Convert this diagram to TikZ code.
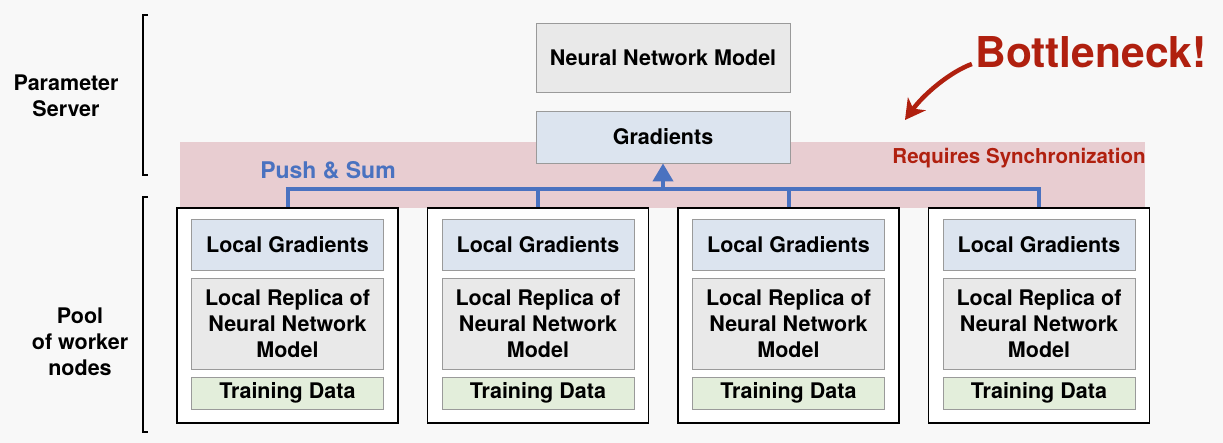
\documentclass[tikz,border=0pt]{standalone}
\usepackage{fontspec}
\setmainfont{TeX Gyre Heros}
\usetikzlibrary{arrows.meta}
\definecolor{bgcol}{HTML}{F8F8F8}
\definecolor{modelgray}{HTML}{E9E9E9}
\definecolor{gradblue}{HTML}{DCE4EF}
\definecolor{datagreen}{HTML}{E3EEDB}
\definecolor{syncpink}{HTML}{E8CDD1}
\definecolor{pushblue}{HTML}{4A72C0}
\definecolor{alertred}{HTML}{B0200F}
\definecolor{edgegray}{HTML}{9A9A9A}

\begin{document}
\begin{tikzpicture}[x=1pt,y=-1pt,
  txt/.style={font=\fontsize{21.5}{26}\selectfont\bfseries},
  box/.style={txt,draw=edgegray,line width=0.8pt,inner sep=0pt,align=center},
  worker/.style={draw=black,fill=white,line width=1.3pt,minimum width=221pt,minimum height=215pt,inner sep=0pt},
  push/.style={draw=pushblue,line width=4pt},
  brace/.style={line width=1.3pt}]
\fill[bgcol] (0,0) rectangle (1223,443);
\useasboundingbox (0,0) rectangle (1223,443);

\draw[brace] (148,15) -- (143,15) -- (143,175) -- (148,175);
\draw[brace] (148,197) -- (143,197) -- (143,432) -- (148,432);
\node[txt,align=center] (pslabel) at (66,96) {Parameter\\Server};
\node[txt,align=center] (poollabel) at (80,342) {Pool\\of worker\\nodes};

\fill[syncpink] (180,142) rectangle (1145,208);

\node[box,fill=modelgray,minimum width=254pt,minimum height=69pt] (model) at (663,57.5) {Neural Network Model};
\node[box,fill=gradblue,minimum width=254pt,minimum height=52pt] (grad) at (663,137) {Gradients};

\foreach \i/\cx in {1/287.5,2/538,3/788.5,4/1039} {
  \node[worker] (w\i) at (\cx,315.5) {};
  \node[box,fill=gradblue,minimum width=192pt,minimum height=51pt] (lg\i) at (\cx,244.5) {Local Gradients};
  \node[box,fill=modelgray,minimum width=192pt,minimum height=91pt] (rep\i) at (\cx,323.5) {Local Replica of\\Neural Network\\Model};
  \node[box,fill=datagreen,minimum width=192pt,minimum height=32pt] (td\i) at (\cx,393) {Training Data};
}

\coordinate (bus) at (663,189);
\draw[push] (w1.north) |- (bus) -| (w4.north);
\draw[push] (w2.north) -- (w2.north |- bus);
\draw[push] (w3.north) -- (w3.north |- bus);
\draw[push,-{Triangle[length=18pt,width=20pt]}] (bus) -- (grad.south);

\node[font=\fontsize{23}{26}\selectfont\bfseries,text=pushblue] (pushsum) at (328,170) {Push \& Sum};
\node[font=\fontsize{20.5}{24}\selectfont\bfseries,text=alertred] (sync) at (1019,158) {Requires Synchronization};
\node[font=\fontsize{42.5}{48}\selectfont\bfseries,text=alertred] (bneck) at (1091,52) {Bottleneck!};
\coordinate (bnhead) at (905,120);
\draw[alertred,line width=4.5pt,-{Stealth[length=20pt,width=22pt,inset=6pt]}] (bneck.west |- 0,64) .. controls (950,72) and (924,94) .. (bnhead);
\end{tikzpicture}
\end{document}
